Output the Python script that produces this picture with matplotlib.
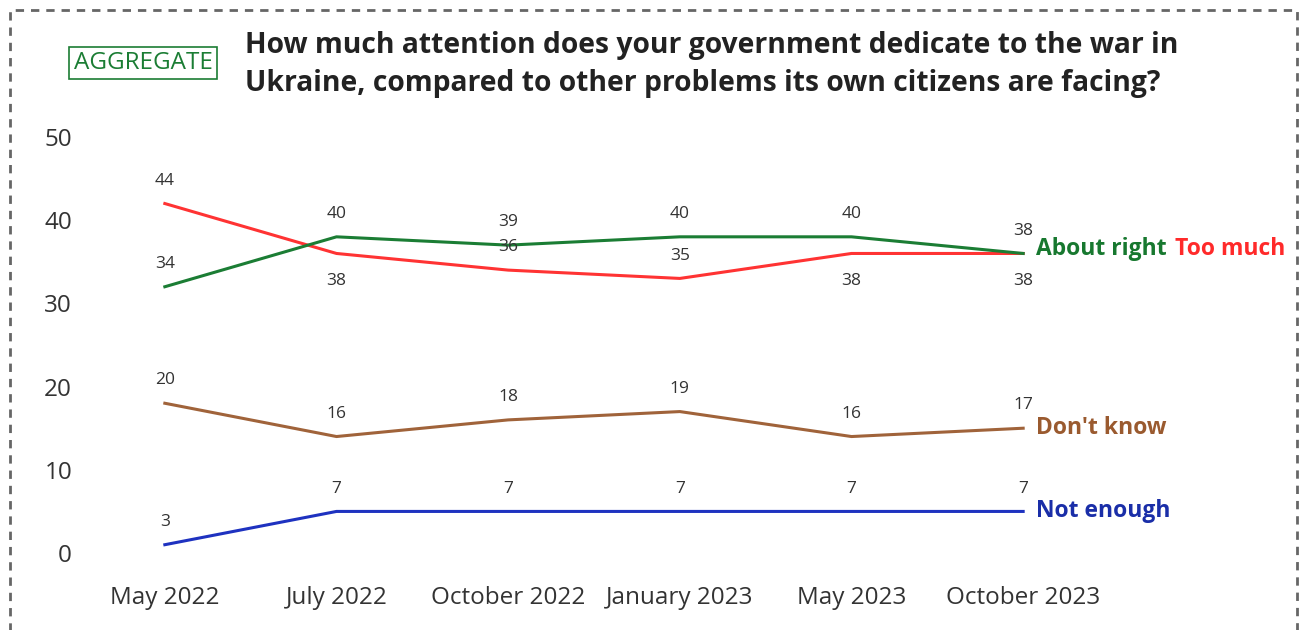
import matplotlib.pyplot as plt
import matplotlib.patches as patches

# survey waves and values (labels as printed on the chart)
waves = ["May 2022", "July 2022", "October 2022", "January 2023", "May 2023", "October 2023"]
too_much = [44, 38, 36, 35, 38, 38]
about_right = [34, 40, 39, 40, 40, 38]
dont_know = [20, 16, 18, 19, 16, 17]
not_enough = [3, 7, 7, 7, 7, 7]

# the source chart draws everything 2 points below its y tick labels
y_ticklabels = [0, 10, 20, 30, 40, 50]
y_ticks = [t + 2 for t in y_ticklabels]

plt.rcParams['font.family'] = ['Open Sans', 'DejaVu Sans']

fig = plt.figure(figsize=(13.05, 6.3), dpi=100)
W, H = 1305, 630

# axes placed so data x=0..5 -> px 165..1023, y tick 2..52 -> px 553..137
ax = fig.add_axes([79 / W, 52 / H, (1109 - 79) / W, (518 - 52) / H])
ax.set_xlim(-0.5, 5.5)
ax.set_ylim(-1, 55)

series = [
    ("Too much", too_much, "#ff3333", "#ff2a2a",
     ["above", "below", "above", "above", "below", "below"]),
    ("About right", about_right, "#1b7d34", "#17782f", ["above"] * 6),
    ("Don't know", dont_know, "#a0633a", "#9a5a2f", ["above"] * 6),
    ("Not enough", not_enough, "#1e32c0", "#1a2ea8", ["above"] * 6),
]

x = list(range(len(waves)))
for name, vals, lc, tc, pos in series:
    ax.plot(x, vals, color=lc, lw=2.2, solid_joinstyle='round')
    for xi, v, p in zip(x, vals, pos):
        dy = 16.5 if p == "above" else -20
        ax.annotate(str(v), (xi, v), xytext=(0, dy), textcoords='offset points',
                    ha='center', va='center', fontsize=12.5, color='#333333')

# end-of-line series names
ax.annotate("Not enough", (5, not_enough[-1]), xytext=(9, 0), textcoords='offset points',
            ha='left', va='center', fontsize=16.5, fontweight='bold', color="#1a2ea8")
ax.annotate("Don't know", (5, dont_know[-1]), xytext=(9, 0), textcoords='offset points',
            ha='left', va='center', fontsize=16.5, fontweight='bold', color="#9a5a2f")
ax.annotate("About right", (5, about_right[-1]), xytext=(9, 3), textcoords='offset points',
            ha='left', va='center', fontsize=16.5, fontweight='bold', color="#17782f")
ax.annotate("Too much", (5, too_much[-1]), xytext=(109, 3), textcoords='offset points',
            ha='left', va='center', fontsize=16.5, fontweight='bold', color="#ff2a2a")

ax.set_xticks(x)
ax.set_xticklabels(waves, fontsize=17.5, color='#333333')
ax.set_yticks(y_ticks)
ax.set_yticklabels([str(t) for t in y_ticklabels], fontsize=17.5, color='#333333')
ax.tick_params(length=0, pad=5)
ax.tick_params(axis='x', pad=6)
for s in ax.spines.values():
    s.set_visible(False)

# title and tag
fig.text(245 / W, 1 - 46 / H, "How much attention does your government dedicate to the war in",
         fontsize=20.3, fontweight='bold', color='#222222', va='center', ha='left')
fig.text(245 / W, 1 - 83 / H, "Ukraine, compared to other problems its own citizens are facing?",
         fontsize=20.3, fontweight='bold', color='#222222', va='center', ha='left')
fig.text(143 / W, 1 - 63 / H, "AGGREGATE", fontsize=17.5, color='#1b7d34', ha='center', va='center',
         bbox=dict(boxstyle='square,pad=0.18', fc='white', ec='#1b7d34', lw=1.2))

# dashed frame around the whole figure
frame = patches.Rectangle((10 / W, -0.05), (1297 - 10) / W, 1.05 - 10 / H,
                          transform=fig.transFigure, fill=False, ec='#666666',
                          lw=2, ls=(0, (3, 2.5)), clip_on=False)
fig.patches.append(frame)

fig.savefig("out.png", dpi=100)
